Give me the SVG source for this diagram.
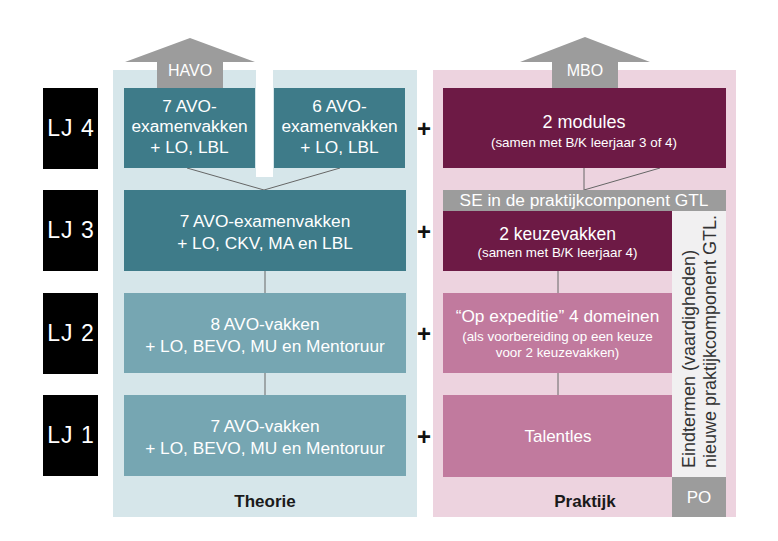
<svg xmlns="http://www.w3.org/2000/svg" width="778" height="541" viewBox="0 0 778 541">
<style>
text{font-family:"Liberation Sans",Arial,sans-serif;}
.w{fill:#ffffff;text-anchor:middle;}
.big{font-size:17.3px;}
.sm{font-size:13.4px;}
.lj{fill:#000;}
.ljt{fill:#fff;font-size:23px;text-anchor:middle;letter-spacing:1px;}
.plus{fill:#111;font-size:24px;font-weight:bold;text-anchor:middle;}
.dark{fill:#3e7b89;}
.mid{fill:#76a6b2;}
.maroon{fill:#6d1a45;}
.pinkb{fill:#c17a9e;}
.gray{fill:#9c9c9c;}
.con{stroke:#666;stroke-width:1;fill:none;}
.lbl{fill:#1a1a1a;font-size:17px;font-weight:bold;text-anchor:middle;}
.vt{font-size:18px;fill:#333;}
</style>
<rect width="778" height="541" fill="#ffffff"/>
<g id="panel-theorie">
<rect x="113" y="70" width="304" height="447" fill="#d6e6ea"/>
<rect x="256" y="62" width="17" height="115" fill="#ffffff"/>
<text class="lbl" x="265" y="507">Theorie</text>
</g>
<g id="panel-praktijk">
<rect x="433" y="70" width="303" height="447" fill="#edd3df"/>
<text class="lbl" x="585" y="507">Praktijk</text>
</g>
<g id="havo">
<polygon points="125,62 190,38 255,62 223,62 223,88 157,88 157,62" class="gray"/>
<text class="w" x="190" y="76" font-size="16">HAVO</text>
</g>
<g id="mbo">
<polygon points="520,62 585,37 650,62 618,62 618,88 552,88 552,62" class="gray"/>
<text class="w" x="585" y="76" font-size="16">MBO</text>
</g>
<g id="connectors">
<line class="con" x1="187" y1="168" x2="264" y2="190"/>
<line class="con" x1="340" y1="168" x2="264" y2="190"/>
<line class="con" x1="265" y1="271" x2="265" y2="293"/>
<line class="con" x1="265" y1="373" x2="265" y2="395"/>
<line class="con" x1="584" y1="168" x2="584" y2="190"/>
<line class="con" x1="660" y1="168" x2="584" y2="190"/>
<line class="con" x1="558" y1="271" x2="558" y2="293"/>
<line class="con" x1="558" y1="373" x2="558" y2="395"/>
</g>
<g id="lj4"><rect class="lj" x="43" y="88" width="55" height="81"/><text class="ljt" x="71" y="136">LJ 4</text></g>
<g id="lj3"><rect class="lj" x="43" y="190" width="55" height="81"/><text class="ljt" x="71" y="238">LJ 3</text></g>
<g id="lj2"><rect class="lj" x="43" y="293" width="55" height="81"/><text class="ljt" x="71" y="341">LJ 2</text></g>
<g id="lj1"><rect class="lj" x="43" y="395" width="55" height="81"/><text class="ljt" x="71" y="443">LJ 1</text></g>
<g id="t4a"><rect class="dark" x="124" y="88" width="131" height="80"/>
<text class="w big" x="189.5" y="112">7 AVO-</text><text class="w big" x="189.5" y="132">examenvakken</text><text class="w big" x="189.5" y="153">+ LO, LBL</text></g>
<g id="t4b"><rect class="dark" x="274" y="88" width="131" height="80"/>
<text class="w big" x="339.5" y="112">6 AVO-</text><text class="w big" x="339.5" y="132">examenvakken</text><text class="w big" x="339.5" y="153">+ LO, LBL</text></g>
<g id="t3"><rect class="dark" x="124" y="190" width="282" height="81"/>
<text class="w big" x="265" y="227">7 AVO-examenvakken</text><text class="w big" x="265" y="249">+ LO, CKV, MA en LBL</text></g>
<g id="t2"><rect class="mid" x="124" y="293" width="282" height="80"/>
<text class="w big" x="265" y="330">8 AVO-vakken</text><text class="w big" x="265" y="352">+ LO, BEVO, MU en Mentoruur</text></g>
<g id="t1"><rect class="mid" x="124" y="395" width="282" height="81"/>
<text class="w big" x="265" y="432">7 AVO-vakken</text><text class="w big" x="265" y="454">+ LO, BEVO, MU en Mentoruur</text></g>
<g id="plus">
<text class="plus" x="424" y="137">+</text>
<text class="plus" x="424" y="240">+</text>
<text class="plus" x="424" y="342">+</text>
<text class="plus" x="424" y="445">+</text>
</g>
<g id="p4"><rect class="maroon" x="443" y="88" width="283" height="80"/>
<text class="w" x="584" y="128" font-size="18">2 modules</text><text class="w sm" x="584" y="147">(samen met B/K leerjaar 3 of 4)</text></g>
<g id="se"><rect class="gray" x="443" y="190" width="283" height="21"/>
<text class="w" x="584" y="206" font-size="17.3">SE in de praktijkcomponent GTL</text></g>
<g id="p3"><rect class="maroon" x="443" y="211" width="229" height="60"/>
<text class="w" x="557.5" y="240" font-size="17.5">2 keuzevakken</text><text class="w sm" x="557.5" y="257">(samen met B/K leerjaar 4)</text></g>
<g id="eind"><rect x="672" y="211" width="54" height="266" fill="#f1f0f1"/>
<text class="vt" transform="translate(695,468) rotate(-90)">Eindtermen (vaardigheden)</text>
<text class="vt" transform="translate(716,468) rotate(-90)">nieuwe praktijkcomponent GTL.</text></g>
<g id="p2"><rect class="pinkb" x="443" y="293" width="229" height="80"/>
<text class="w" x="557.5" y="322" font-size="17.3">“Op expeditie” 4 domeinen</text><text class="w sm" x="557.5" y="341">(als voorbereiding op een keuze</text><text class="w sm" x="557.5" y="357">voor 2 keuzevakken)</text></g>
<g id="p1"><rect class="pinkb" x="443" y="395" width="229" height="82"/>
<text class="w" x="558" y="442" font-size="17">Talentles</text></g>
<g id="po"><rect class="gray" x="672" y="477" width="54" height="40"/>
<text class="w" x="699" y="503" font-size="17">PO</text></g>
</svg>
